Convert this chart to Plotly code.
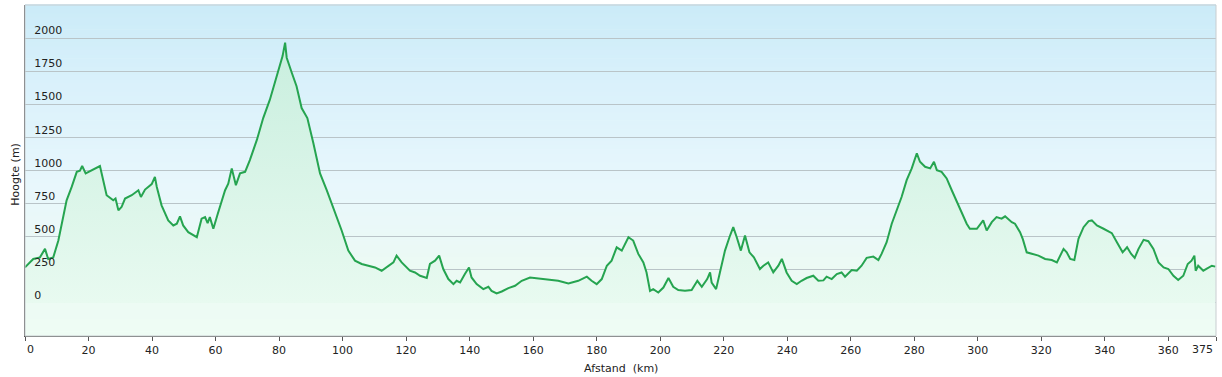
import plotly.graph_objects as go

# Distance (km) and elevation (m)
afstand_km = [
    0, 1.3, 2.6, 4.7, 6.3, 7.3, 8.9, 10.5, 12.1, 13.1, 14.7, 16.3, 17.3, 18.0, 19.1,
    21.0, 22.6, 23.6, 25.7, 27.8, 28.5, 29.4, 30.4, 31.5, 33.6, 35.7, 36.5, 37.8, 39.9,
    40.9, 41.5, 43.0, 45.1, 46.7, 47.8, 48.8, 49.8, 51.4, 54.1, 55.6, 56.7, 57.5, 58.2,
    59.3, 60.7, 61.4, 63.0, 64.0, 65.1, 66.4, 67.7, 69.3, 70.8, 73.0, 75.0, 77.1, 78.7,
    80.1, 81.1, 81.9, 82.4, 84.0, 85.5, 87.1, 88.9, 90.8, 92.9, 95.0, 97.6, 99.7, 101.8,
    103.9, 106.0, 108.1, 110.2, 112.3, 114.4, 116.0, 117.0, 118.6, 121.2, 122.8, 124.4,
    126.5, 127.5, 129.1, 130.4, 131.7, 133.3, 134.9, 135.9, 137.0, 138.5, 139.8, 140.6,
    142.2, 144.3, 145.9, 146.9, 148.5, 150.1, 152.2, 154.3, 156.4, 159.0, 161.6, 164.8,
    167.9, 171.1, 174.2, 176.9, 178.4, 180.0, 181.6, 183.2, 184.7, 186.3, 187.9, 190.0,
    191.5, 193.1, 194.7, 195.7, 196.8, 197.8, 199.4, 201.0, 202.6, 204.1, 205.7, 207.8,
    209.9, 211.7, 213.1, 214.8, 215.7, 216.2, 217.6, 218.8, 220.4, 221.8, 223.0, 224.1,
    225.4, 226.7, 228.1, 229.5, 231.4, 232.5, 234.0, 235.6, 237.2, 238.3, 239.8, 241.4,
    243.0, 244.5, 246.1, 248.2, 249.8, 251.4, 252.4, 254.0, 255.6, 257.1, 258.2, 260.3,
    261.9, 263.4, 265.0, 267.1, 268.7, 269.7, 271.3, 272.9, 274.5, 276.0, 277.6, 279.2,
    280.8, 281.8, 283.4, 285.0, 286.2, 287.1, 288.6, 290.2, 291.8, 293.4, 295.0, 296.5,
    297.5, 299.7, 301.7, 302.8, 304.4, 305.9, 307.5, 308.6, 310.7, 311.7, 313.3, 314.2,
    315.4, 317.0, 319.1, 321.2, 323.3, 324.9, 325.9, 327.0, 328.0, 329.1, 330.4, 331.7,
    333.3, 334.9, 335.9, 337.5, 339.6, 342.2, 343.8, 345.6, 347.0, 348.3, 349.4, 350.6,
    352.2, 353.7, 355.3, 356.9, 358.5, 360.0, 361.6, 363.1, 364.7, 366.1, 367.3, 368.2,
    368.6, 369.4, 371.0, 372.6, 373.7, 374.8,
]
hoogte_m = [
    268, 300, 332, 344, 408, 332, 344, 471, 648, 775, 876, 990, 998, 1034, 978,
    1003, 1024, 1034, 813, 775, 788, 699, 724, 788, 813, 851, 800, 856, 897,
    952, 876, 737, 623, 585, 598, 654, 585, 534, 496, 636, 648, 603, 648,
    560, 674, 724, 851, 900, 1016, 889, 978, 990, 1079, 1231, 1396, 1535, 1662,
    1788, 1864, 1966, 1852, 1738, 1636, 1472, 1396, 1206, 978, 851, 686, 547, 395,
    319, 294, 281, 268, 243, 281, 306, 357, 306, 243, 230, 205,
    188, 294, 319, 357, 256, 180, 142, 167, 154, 218, 268, 192,
    142, 104, 122, 91, 71, 86, 112, 129, 167, 192, 185, 175,
    167, 147, 167, 198, 167, 142, 180, 281, 319, 420, 395, 496,
    471, 370, 306, 230, 91, 104, 78, 116, 188, 122, 97, 91,
    97, 167, 122, 180, 230, 154, 104, 230, 395, 496, 572, 496,
    395, 509, 382, 344, 256, 281, 306, 230, 281, 332, 230, 167,
    142, 167, 188, 205, 167, 170, 198, 180, 218, 230, 198, 248,
    243, 281, 340, 350, 324, 370, 458, 598, 699, 800, 927, 1016,
    1130, 1066, 1028, 1016, 1066, 1003, 990, 940, 851, 762, 674, 598,
    560, 560, 623, 547, 610, 648, 636, 654, 610, 598, 534, 480,
    382, 370, 357, 332, 324, 306, 357, 408, 382, 332, 324, 484,
    572, 618, 623, 585, 560, 527, 458, 382, 420, 370, 340, 408,
    476, 466, 408, 306, 268, 256, 205, 173, 205, 294, 319, 357,
    243, 281, 243, 264, 281, 274,
]

x_ticks = [0, 20, 40, 60, 80, 100, 120, 140, 160, 180, 200, 220, 240, 260, 280,
           300, 320, 340, 360, 375]
y_ticks = [0, 250, 500, 750, 1000, 1250, 1500, 1750, 2000]

FONT = "DejaVu Sans"
TXT = "#222"

fig = go.Figure()

fig.add_trace(go.Scatter(
    x=afstand_km, y=hoogte_m, mode="lines",
    line=dict(color="rgb(38,164,80)", width=2),
    fill="tozeroy",
    fillgradient=dict(type="vertical",
                      colorscale=[[0, "rgb(232,250,240)"], [1, "rgb(200,238,222)"]],
                      start=0, stop=2000),
    hoverinfo="skip", showlegend=False,
))

# vertical background gradient (light blue at top -> light mint at bottom)
stops = [(0.0, (238, 252, 244)), (0.2, (236, 250, 244)), (0.45, (232, 247, 252)),
         (0.75, (218, 241, 251)), (1.0, (203, 235, 248))]

def col_at(t):
    for (a, ca), (b, cb) in zip(stops[:-1], stops[1:]):
        if a <= t <= b:
            f = (t - a) / (b - a)
            return tuple(round(ca[i] + (cb[i] - ca[i]) * f) for i in range(3))
    return stops[-1][1]

n = 80
shapes = []
for i in range(n):
    y0, y1 = i / n, (i + 1) / n
    c = col_at((y0 + y1) / 2)
    shapes.append(dict(type="rect", xref="paper", yref="paper", x0=0, x1=1,
                       y0=y0, y1=y1 + 0.002, layer="below", line=dict(width=0),
                       fillcolor="rgb(%d,%d,%d)" % c))
# light frame on top/right
shapes.append(dict(type="rect", xref="paper", yref="paper", x0=0, x1=1, y0=0, y1=1,
                   layer="above", line=dict(color="rgb(200,205,208)", width=1)))

# edge tick labels are drawn as annotations so they stay inside the page
xt_text = [str(v) for v in x_ticks]
xt_text[0] = ""
xt_text[-1] = ""

annotations = [
    dict(text="Afstand\u00a0\u00a0(km)", xref="paper", yref="paper", x=0.5, y=-0.098,
         yanchor="middle", xanchor="center", showarrow=False,
         font=dict(family=FONT, size=11, color=TXT)),
    dict(text="Hoogte (m)", xref="paper", x=-0.0085, xanchor="center",
         yref="paper", y=0.49, yanchor="middle", textangle=-90, showarrow=False,
         xshift=1, font=dict(family=FONT, size=11, color=TXT)),
    dict(text=str(x_ticks[0]), xref="x", x=x_ticks[0], yref="paper", y=0,
         xanchor="left", yanchor="top", yshift=-5, xshift=0, showarrow=False,
         font=dict(family=FONT, size=11, color=TXT)),
    dict(text=str(x_ticks[-1]), xref="x", x=x_ticks[-1], yref="paper", y=0,
         xanchor="right", yanchor="top", yshift=-5, xshift=-1, showarrow=False,
         font=dict(family=FONT, size=11, color=TXT)),
]

fig.update_layout(
    width=1222, height=377,
    margin=dict(l=25, r=6, t=5, b=41, autoexpand=False),
    paper_bgcolor="white", plot_bgcolor="rgba(0,0,0,0)",
    font=dict(family=FONT, size=11, color=TXT),
    shapes=shapes,
    xaxis=dict(range=[0, 375], tickvals=x_ticks, ticktext=xt_text,
               showgrid=False, zeroline=False, showline=True, linecolor="#555",
               linewidth=1, ticks="outside", ticklen=4, tickcolor="#555",
               automargin=False, ticklabeloverflow="allow",
               tickfont=dict(family=FONT, size=11, color=TXT), layer="above traces"),
    yaxis=dict(range=[-250, 2250], tickvals=y_ticks, ticktext=[str(v) for v in y_ticks],
               showgrid=True, gridcolor="rgb(185,196,200)", gridwidth=1,
               zeroline=False, showline=True, linecolor="#555", linewidth=1,
               ticks="", ticklabelposition="inside top", ticklabelstandoff=8,
               automargin=False, ticklabeloverflow="allow",
               tickfont=dict(family=FONT, size=11, color=TXT), layer="above traces"),
    annotations=annotations,
)

fig.write_html("out.html",
               config={"displayModeBar": False},
               post_script="document.body.style.margin='0px';"
                           "document.body.style.overflow='hidden';")
